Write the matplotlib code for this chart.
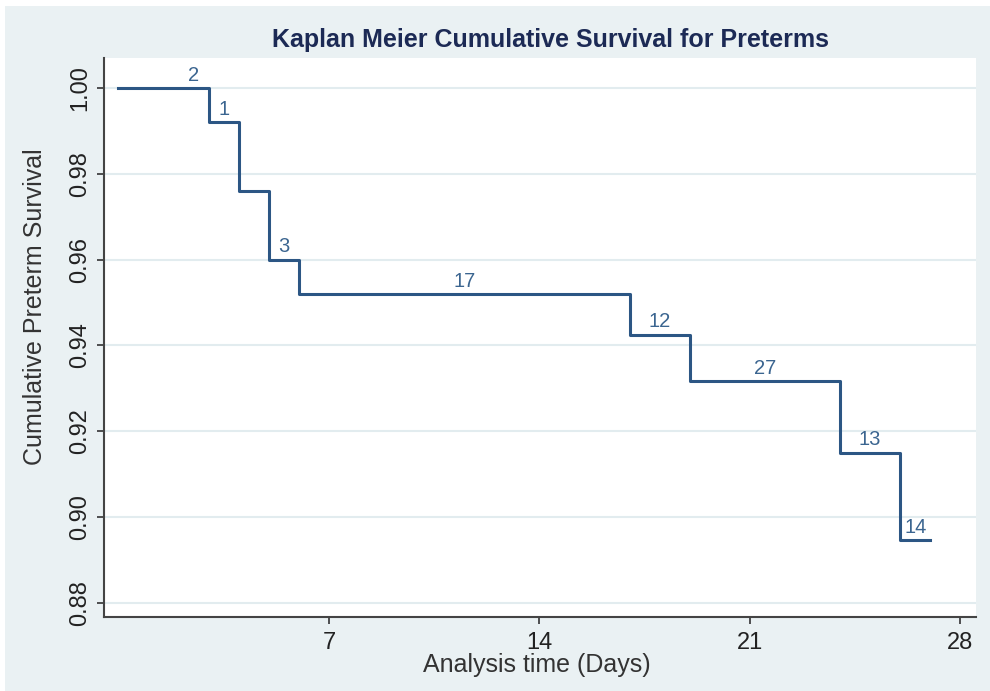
import matplotlib.pyplot as plt
from matplotlib.patches import Rectangle

# Kaplan-Meier step data (days, survival)
days = [0, 3, 4, 5, 6, 17, 19, 24, 26, 27]
survival = [1.000, 0.992, 0.976, 0.960, 0.952, 0.9425, 0.9317, 0.915, 0.8946, 0.8946]

# numbers printed above segments
label_x = [2.5, 3.5, 5.5, 11.5, 18, 21.5, 25, 26.5]
label_y = [1.000, 0.992, 0.960, 0.952, 0.9425, 0.9317, 0.915, 0.8946]
label_txt = ['2', '1', '3', '17', '12', '27', '13', '14']

xticks = [7, 14, 21, 28]
yticks = [0.88, 0.90, 0.92, 0.94, 0.96, 0.98, 1.00]

plt.rcParams['font.family'] = ['Liberation Sans', 'DejaVu Sans']

bg = '#eaf1f3'
line_col = '#2c5684'
fig = plt.figure(figsize=(9.9, 6.91), dpi=100, facecolor='white')
fig.patches.append(Rectangle((5 / 990, 0), 1, 685 / 691, transform=fig.transFigure,
                             facecolor=bg, edgecolor='none', zorder=-10))

ax = fig.add_axes([104 / 990, 74 / 691, 872 / 990, 559 / 691])
ax.set_facecolor('white')

ax.step(days, survival, where='post', color=line_col, linewidth=2.2)
for x, y, t in zip(label_x, label_y, label_txt):
    ax.text(x, y + 0.0008, t, ha='center', va='bottom', color='#3b6590', fontsize=14.5)

ax.set_xlim(-0.48, 28.52)
ax.set_ylim(0.8767, 1.007)
ax.set_xticks(xticks)
ax.set_yticks(yticks)
ax.set_yticklabels(['%.2f' % v for v in yticks], rotation=90, va='center')
ax.tick_params(axis='both', labelsize=17, color='#333333', labelcolor='#222222',
               length=5, width=1.2)
ax.tick_params(axis='x', pad=6)
ax.tick_params(axis='y', pad=4)

ax.yaxis.grid(True, color='#e2ecef', linewidth=1.5)
ax.set_axisbelow(True)
for s in ['top', 'right']:
    ax.spines[s].set_visible(False)
for s in ['left', 'bottom']:
    ax.spines[s].set_color('#444444')
    ax.spines[s].set_linewidth(1.5)

fig.text(550 / 990, 1 - 40 / 691, 'Kaplan Meier Cumulative Survival for Preterms',
         ha='center', va='center', fontsize=18, fontweight='bold', color='#1c2a55')
fig.text(537 / 990, 1 - 665 / 691, 'Analysis time (Days)', ha='center', va='center',
         fontsize=18, color='#333333')
fig.text(35 / 990, 1 - 307 / 691, 'Cumulative Preterm Survival', ha='center', va='center',
         rotation=90, fontsize=18, color='#333333')

fig.savefig('out.png', dpi=100, facecolor=fig.get_facecolor())
